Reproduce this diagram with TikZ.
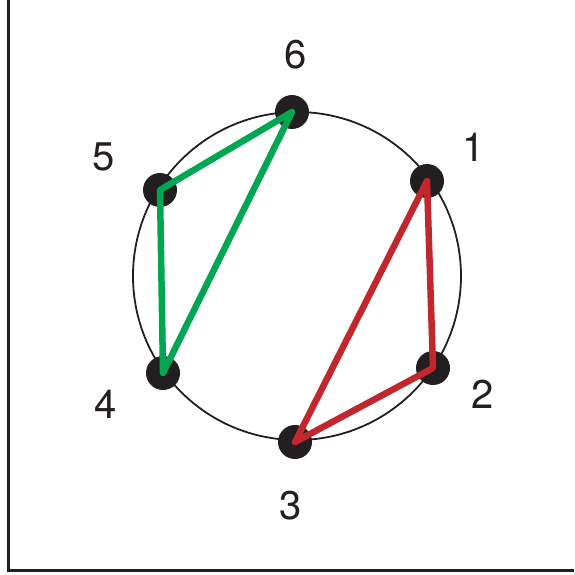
\documentclass[tikz,border=0pt]{standalone}
\usepackage{fontspec}
\setmainfont{TeX Gyre Heros}
\definecolor{dotblack}{RGB}{35, 31, 32}
\definecolor{trired}{RGB}{193, 39, 45}
\definecolor{trigreen}{RGB}{0, 166, 81}
\usetikzlibrary{positioning}

\begin{document}
\begin{tikzpicture}[x=1pt, y=-1pt,
    vertex/.style={circle, fill=dotblack, minimum size=34pt, inner sep=0pt},
    num/.style={font=\fontsize{40}{40}\selectfont, text=dotblack},
    edge/.style={line width=6.5pt, line join=round}]
  \useasboundingbox (0,0) rectangle (574,575);
  % frame
  \draw[line width=3pt, dotblack] (8,0) -- (8,570) -- (574,570);
  % ring
  \node[circle, draw=dotblack, line width=1.8pt, minimum size=328pt, inner sep=0pt] (ring) at (297,276) {};
  % points on the ring
  \node[vertex] (p1) at (427,181) {};
  \node[vertex] (p2) at (433,368) {};
  \node[vertex] (p3) at (295,442) {};
  \node[vertex] (p4) at (163,373) {};
  \node[vertex] (p5) at (160,190) {};
  \node[vertex] (p6) at (292,112) {};
  % labels
  \node[num] (l1) at (474,147) {1};
  \node[num] (l2) at (483,394) {2};
  \node[num] (l3) at (291,506) {3};
  \node[num] (l4) at (106,404) {4};
  \node[num] (l5) at (104,157) {5};
  \node[num] (l6) at (296,55) {6};
  % triangles
  \draw[edge, trired] (p1.center) -- (p2.center) -- (p3.center) -- cycle;
  \draw[edge, trigreen] (p6.center) -- (p5.center) -- (p4.center) -- cycle;
\end{tikzpicture}
\end{document}
